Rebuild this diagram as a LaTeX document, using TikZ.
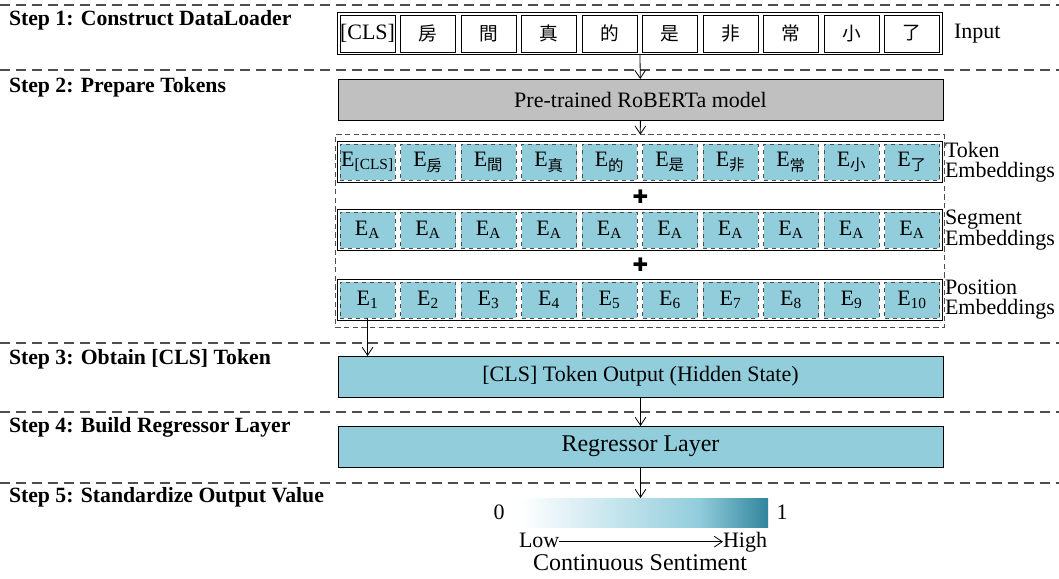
\documentclass[tikz,border=0pt]{standalone}
\usepackage{fontspec}
\setmainfont{Liberation Serif}
\newfontfamily\cjk{Noto Sans CJK TC}
\newfontfamily\symfont{DejaVu Sans}
\usetikzlibrary{arrows.meta,fit}
\definecolor{embfill}{HTML}{92CDDC}
\definecolor{gradhigh}{HTML}{31859C}
\definecolor{modelgray}{HTML}{C0C0C0}
\definecolor{sepgray}{HTML}{4D4D4D}
\pgfdeclarehorizontalshading{sentiment}{100bp}{color(0bp)=(white); color(25bp)=(white); color(61bp)=(embfill); color(75bp)=(gradhigh); color(100bp)=(gradhigh)}

\begin{document}
\begin{tikzpicture}[x=0.75pt,y=-0.75pt,inner sep=0pt,outer sep=0pt,line width=0.6pt,
>={Straight Barb[length=6pt,width=8pt]},font=\fontsize{16.5}{18}\selectfont,
steplabel/.style={anchor=base west,font=\fontsize{16.3}{18}\selectfont\bfseries},
sepline/.style={draw=sepgray,line width=1.1pt,dash pattern=on 7.5pt off 4.5pt},
tokbox/.style={draw,rectangle,minimum width=41.25pt,minimum height=27.75pt},
embbox/.style={draw=sepgray,dashed,fill=embfill,rectangle,minimum width=41.25pt,minimum height=27pt},
rowbox/.style={draw,rectangle,inner sep=2pt},
sidelabel/.style={anchor=west,align=left,font=\fontsize{16.5}{15}\selectfont},
scalelabel/.style={text height=0.8em,text depth=0pt},
wideblock/.style={draw,rectangle,minimum width=453.75pt,minimum height=30.75pt}]

\useasboundingbox (0,0) rectangle (1059,578);

\foreach \y in {5,70,343,412,483}
  \draw[sepline] (0,\y) -- (1059,\y);

\node[steplabel] (step1) at (9,25) {Step 1: Construct DataLoader};
\node[steplabel] (step2) at (9,92) {Step 2: Prepare Tokens};
\node[steplabel] (step3) at (9,364) {Step 3: Obtain [CLS] Token};
\node[steplabel] (step4) at (9,432) {Step 4: Build Regressor Layer};
\node[steplabel] (step5) at (9,502) {Step 5: Standardize Output Value};

\node[tokbox] (in0) at (367.5,33.5) {[CLS]};
\foreach \c [count=\i] in {房,間,真,的,是,非,常,小,了}
  \node[tokbox] (in\i) at (367.5+60.5*\i,33.5) {\cjk\fontsize{14}{16}\selectfont\c};
\node[rowbox,fit=(in0)(in9)] (inrow) {};
\node[anchor=west] (inlabel) at (954,34) {Input};

\node[wideblock,fill=modelgray] (roberta) at (640.5,99.5) {Pre-trained RoBERTa model};

\node[embbox] (t0) at (367.5,162) {E\textsubscript{[CLS]}};
\foreach \c [count=\i] in {房,間,真,的,是,非,常,小,了}
  \node[embbox] (t\i) at (367.5+60.5*\i,162) {E\textsubscript{\cjk\c}};
\node[rowbox,fit=(t0)(t9)] (tokrow) {};

\foreach \i in {0,...,9}
  \node[embbox] (g\i) at (367.5+60.5*\i,230) {E\textsubscript{A}};
\node[rowbox,fit=(g0)(g9)] (segrow) {};

\foreach \i [evaluate=\i as \n using int(\i+1)] in {0,...,9}
  \node[embbox] (p\i) at (367.5+60.5*\i,300) {E\textsubscript{\n}};
\node[rowbox,fit=(p0)(p9)] (posrow) {};

\node[draw=sepgray,dash pattern=on 4pt off 2.5pt,inner xsep=1.5pt,inner ysep=5pt,fit=(tokrow)(posrow)] (embgroup) {};
\node (plus1) at (640.5,197) {\symfont\fontsize{14}{14}\selectfont ✚};
\node (plus2) at (640.5,265) {\symfont\fontsize{14}{14}\selectfont ✚};

\node[sidelabel] (toklabel) at (945,162) {Token\\Embeddings};
\node[sidelabel] (seglabel) at (945,230) {Segment\\Embeddings};
\node[sidelabel] (poslabel) at (945,300) {Position\\Embeddings};

\node[wideblock,fill=embfill] (clsout) at (640.5,376.5) {[CLS] Token Output (Hidden State)};
\node[wideblock,fill=embfill,font=\fontsize{18}{20}\selectfont] (regressor) at (640.5,446.5) {Regressor Layer};

\node[shade,shading=sentiment,minimum width=186pt,minimum height=21.75pt] (sentbar) at (644,512.5) {};
\node (zero) at (499,512) {0};
\node (one) at (782,512) {1};
\node[scalelabel,anchor=base west] (lowlbl) at (519,547) {Low};
\node[scalelabel,anchor=base east] (highlbl) at (767,547) {High};
\node[font=\fontsize{18}{20}\selectfont] (sentlbl) at (640,563) {Continuous Sentiment};

\draw[->] (inrow) -- (roberta);
\draw[->] (roberta) -- (embgroup);
\draw[->] (p0.south) -- (p0.south |- clsout.north);
\draw[->] (clsout) -- (regressor);
\draw[->] (regressor) -- (regressor.south |- sentbar.north);
\draw[->] (lowlbl.east) -- (highlbl.west);
\end{tikzpicture}
\end{document}
